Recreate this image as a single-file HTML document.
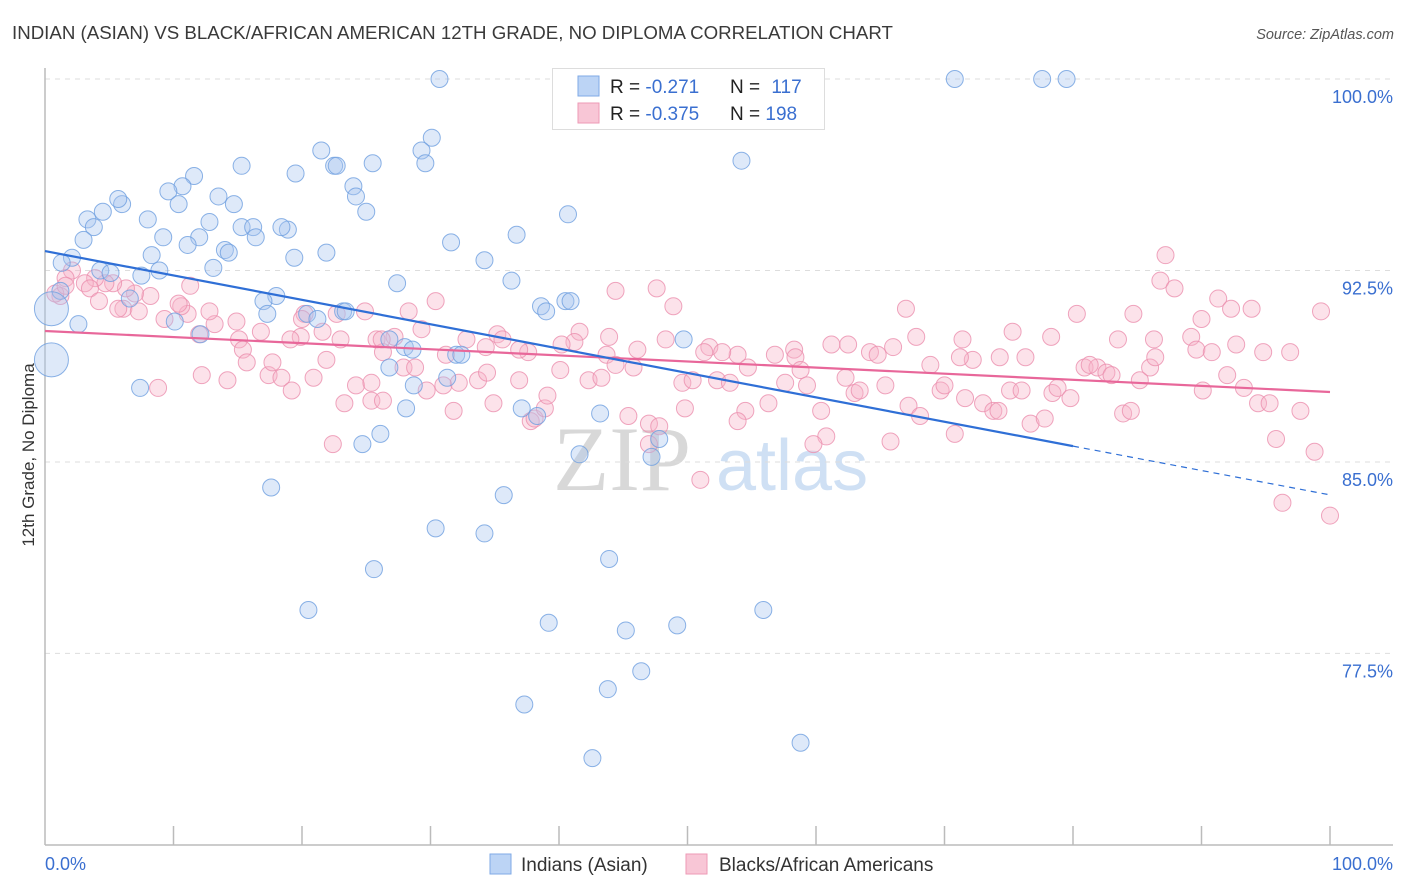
<!DOCTYPE html>
<html><head><meta charset="utf-8"><style>
body{margin:0;background:#fff;font-family:"Liberation Sans",sans-serif;}
#wrap{position:relative;width:1406px;height:892px;overflow:hidden;}
</style></head><body>
<div id="wrap">
<svg id="svg" width="1406" height="892" xmlns="http://www.w3.org/2000/svg">
<text x="12" y="39" font-size="18.7" fill="#3a3a3a">INDIAN (ASIAN) VS BLACK/AFRICAN AMERICAN 12TH GRADE, NO DIPLOMA CORRELATION CHART</text>
<text x="1394" y="39" font-size="14.5" fill="#555" font-style="italic" text-anchor="end">Source: ZipAtlas.com</text>
<text transform="translate(34,455) rotate(-90)" font-size="17" fill="#333" text-anchor="middle">12th Grade, No Diploma</text>
<g><text x="553" y="490" font-family="Liberation Serif,serif" font-size="92" fill="#d8d8d8">ZIP</text><text x="716" y="490" font-size="72" fill="#cfe0f4">atlas</text></g>
<g id="grid"></g><g id="axes"></g><g id="pts"></g><g id="trend"></g>
<g>
<rect x="552.5" y="68.5" width="272" height="61" fill="#fff" stroke="#ddd"/>
<rect x="578" y="76" width="21" height="20" fill="#bcd4f5" stroke="#7faae6"/>
<rect x="578" y="103" width="21" height="20" fill="#f8c6d6" stroke="#ee9ab6"/>
<text x="610" y="93" font-size="19" fill="#222">R = <tspan fill="#3a6fd0">-0.271</tspan></text>
<text x="730" y="93" font-size="19" fill="#222">N = <tspan fill="#3a6fd0" dx="6">117</tspan></text>
<text x="610" y="120" font-size="19" fill="#222">R = <tspan fill="#3a6fd0">-0.375</tspan></text>
<text x="730" y="120" font-size="19" fill="#222">N = <tspan fill="#3a6fd0">198</tspan></text>
</g>
<g>
<rect x="490" y="854" width="21" height="20" fill="#bcd4f5" stroke="#7faae6"/>
<text x="521" y="871" font-size="19" fill="#333">Indians (Asian)</text>
<rect x="686" y="854" width="21" height="20" fill="#f8c6d6" stroke="#ee9ab6"/>
<text x="719" y="871" font-size="19" fill="#333">Blacks/African Americans</text>
</g>
</svg>
</div>
<script>
const yTicks=[100,92.5,85,77.5];
const yTickLabels=["100.0%","92.5%","85.0%","77.5%"];
const xTickLabels=["0.0%","100.0%"];
const blueX=[30.7,46.5,70.8,77.6,79.5,30.1,29.3,21.5,22.5,22.7,25.5,29.6,15.3,54.2,19.5,11.6,10.7,9.6,24.0,24.2,13.5,14.7,10.4,6.0,5.7,4.5,3.3,3.8,8.0,25.0,40.7,12.8,15.3,16.2,18.9,18.4,16.4,3.0,9.2,12.0,11.1,14.0,14.3,8.3,31.6,36.7,2.1,1.3,4.3,5.1,19.4,21.9,34.2,8.9,7.5,13.1,27.4,36.3,1.2,6.6,18.0,17.0,17.3,20.4,21.2,23.2,23.4,38.6,39.0,40.5,40.9,10.1,12.1,2.6,49.7,26.8,28.0,28.6,32.0,32.4,26.8,7.4,28.7,31.3,28.1,37.1,38.3,43.2,47.8,26.1,24.7,41.6,47.2,17.6,35.7,30.4,34.2,25.6,43.9,20.5,39.2,45.2,49.2,55.9,43.8,46.4,37.3,42.6,58.8];
const blueY=[100,100,100,100,100,97.7,97.2,97.2,96.6,96.6,96.7,96.7,96.6,96.8,96.3,96.2,95.8,95.6,95.8,95.4,95.4,95.1,95.1,95.1,95.3,94.8,94.5,94.2,94.5,94.8,94.7,94.4,94.2,94.2,94.1,94.2,93.8,93.7,93.8,93.8,93.5,93.3,93.2,93.1,93.6,93.9,93.0,92.8,92.5,92.4,93.0,93.2,92.9,92.5,92.3,92.6,92.0,92.1,91.7,91.4,91.5,91.3,90.8,90.8,90.6,90.9,90.9,91.1,90.9,91.3,91.3,90.5,90.0,90.4,89.8,89.8,89.5,89.4,89.2,89.2,88.7,87.9,88.0,88.3,87.1,87.1,86.8,86.9,85.9,86.1,85.7,85.3,85.2,84.0,83.7,82.4,82.2,80.8,81.2,79.2,78.7,78.4,78.6,79.2,76.1,76.8,75.5,73.4,74.0];
const blueBigX=[0.5,0.5];
const blueBigY=[91.0,89.0];
const pinkX=[87.2,86.8,87.9,91.3,92.3,93.9,99.3,80.3,84.7,90.0,86.3,89.2,89.6,92.7,94.8,96.9,90.8,83.5,78.3,75.3,71.4,67.0,67.8,64.2,64.8,62.5,61.2,66.0,58.3,56.8,58.4,53.9,54.7,51.7,51.3,52.7,48.3,46.1,43.9,41.6,41.2,40.2,43.7,37.6,36.9,35.2,35.6,34.3,32.8,30.4,28.3,29.3,27.2,25.8,26.3,26.2,23.0,22.7,24.9,20.2,20.0,19.9,21.6,19.1,16.8,15.1,15.4,15.7,14.9,13.2,12.8,12.0,11.1,10.6,10.4,11.3,9.3,8.2,7.0,6.3,6.1,5.3,4.7,3.9,3.1,2.1,1.6,1.2,0.8,1.6,3.5,5.7,7.3,4.2,8.8,12.2,14.2,17.4,17.7,18.4,19.2,20.9,21.9,24.2,25.4,25.4,23.3,22.4,26.3,27.9,28.8,29.7,31.0,31.8,31.2,32.2,33.7,34.4,34.9,36.9,37.8,38.1,38.9,40.1,39.1,42.3,43.3,44.4,45.8,44.4,47.6,48.9,49.6,50.4,49.8,45.4,47.0,47.0,47.8,51.0,52.3,53.3,54.5,53.9,56.3,57.6,58.8,59.3,60.4,60.8,59.8,62.3,63.0,63.4,65.4,65.8,67.2,68.1,68.9,69.7,70.0,70.8,71.6,72.2,73.0,73.8,74.2,75.1,76.0,76.7,77.8,78.4,78.8,79.8,80.9,81.9,82.6,83.0,83.9,84.5,85.2,86.0,90.1,92.0,93.3,94.4,95.3,95.8,97.7,98.8,96.3,100.0,86.4,71.2,74.3,76.3,81.3];
const pinkY=[93.1,92.1,91.8,91.4,91.0,91.0,90.9,90.8,90.8,90.6,89.8,89.9,89.4,89.6,89.3,89.3,89.3,89.8,89.9,90.1,89.8,91.0,89.9,89.3,89.2,89.6,89.6,89.5,89.4,89.2,89.1,89.2,88.7,89.5,89.3,89.3,89.8,89.4,89.9,90.1,89.7,89.6,89.2,89.3,89.4,90.0,89.8,89.5,89.8,91.3,90.9,90.2,89.9,89.8,89.3,89.8,89.8,90.8,90.9,90.8,90.6,89.9,90.1,89.8,90.1,89.8,89.4,88.9,90.5,90.4,90.9,90.0,90.8,91.1,91.2,91.9,90.6,91.5,91.6,91.8,91.0,92.0,92.0,92.2,92.0,92.5,92.2,91.5,91.6,91.9,91.8,91.0,90.9,91.3,87.9,88.4,88.2,88.4,88.9,88.3,87.8,88.3,89.0,88.0,88.1,87.4,87.3,85.7,87.4,88.7,88.7,87.8,88.0,87.0,89.2,88.1,88.2,88.5,87.3,88.2,86.6,86.7,87.1,88.6,87.6,88.2,88.3,88.8,88.7,91.7,91.8,91.1,88.1,88.2,87.1,86.8,86.5,85.7,86.4,84.3,88.2,88.1,87.0,86.6,87.3,88.1,88.6,88.0,87.0,86.0,85.7,88.3,87.7,87.8,88.0,85.8,87.2,86.8,88.8,87.8,88.0,86.1,87.5,89.0,87.3,87.0,87.0,87.8,87.8,86.5,86.7,87.7,87.9,87.5,88.7,88.7,88.5,88.4,86.9,87.0,88.2,88.7,87.8,88.4,87.9,87.3,87.3,85.9,87.0,85.4,83.4,82.9,89.1,89.1,89.1,89.1,88.8];
const blueTrend=[93.26,-0.0955];
const blueTrendSolidEnd=80;
const pinkTrend=[90.13,-0.0239];

const NS="http://www.w3.org/2000/svg";
const X0=45,X1=1330,YTOP=79,PXPER=25.53;
const sx=v=>X0+(X1-X0)*v/100;
const sy=v=>YTOP+(100-v)*PXPER;
function mk(tag,attrs,parent){const e=document.createElementNS(NS,tag);for(const k in attrs)e.setAttribute(k,attrs[k]);document.getElementById(parent).appendChild(e);return e;}

yTicks.forEach((t,i)=>{
 const l=mk('line',{x1:45,x2:1393,y1:sy(t),y2:sy(t),stroke:'#ddd','stroke-dasharray':'5,5'},'grid');
 
 
 const tx=mk('text',{x:1393,y:sy(t)+24,'font-size':18,fill:'#3a6fd0','text-anchor':'end'},'grid');
 tx.textContent=yTickLabels[i];
 
 
});
let a=mk('line',{x1:45,x2:45,y1:68,y2:845,stroke:'#bbb','stroke-width':1.5},'axes');


a=mk('line',{x1:45,x2:1393,y1:845,y2:845,stroke:'#bbb','stroke-width':1.5},'axes');


for(let i=1;i<=10;i++){
 const t=mk('line',{x1:sx(i*10),x2:sx(i*10),y1:826,y2:845,stroke:'#bbb','stroke-width':1.5},'axes');
 
 
}
[[0,'start',45],[100,'end',1393]].forEach((p,i)=>{
 const t=mk('text',{x:p[2],y:870,'font-size':18,fill:'#3a6fd0','text-anchor':p[1]},'axes');
 t.textContent=xTickLabels[i];
 
 
});
function pts(xs,ys,r,fill,stroke,name){
 xs.forEach((x,i)=>{
  const c=mk('circle',{cx:sx(x),cy:sy(ys[i]),r:r,fill:fill,'fill-opacity':0.38,stroke:stroke,'stroke-opacity':0.8,'stroke-width':1},'pts');
  
  
 });
}
pts(pinkX,pinkY,8.5,'#f6b3c8','#eb8eae','point-blacks');
pts(blueX,blueY,8.5,'#a8c6f0','#6e9fe0','point-indians');
pts(blueBigX,blueBigY,17,'#a8c6f0','#6e9fe0','point-indians-large');
let l=mk('line',{x1:sx(0),y1:sy(pinkTrend[0]),x2:sx(100),y2:sy(pinkTrend[0]+pinkTrend[1]*100),stroke:'#e8679a','stroke-width':2.2},'trend');


l=mk('line',{x1:sx(0),y1:sy(blueTrend[0]),x2:sx(blueTrendSolidEnd),y2:sy(blueTrend[0]+blueTrend[1]*blueTrendSolidEnd),stroke:'#2f6fd6','stroke-width':2.2},'trend');


l=mk('line',{x1:sx(blueTrendSolidEnd),y1:sy(blueTrend[0]+blueTrend[1]*blueTrendSolidEnd),x2:sx(100),y2:sy(blueTrend[0]+blueTrend[1]*100),stroke:'#2f6fd6','stroke-width':1.2,'stroke-dasharray':'6,5'},'trend');


</script>
</body></html>
